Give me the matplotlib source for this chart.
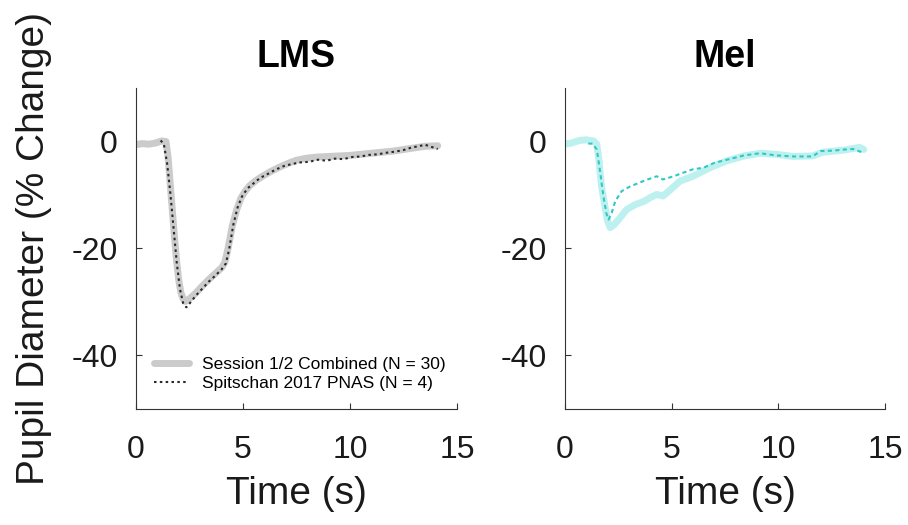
import matplotlib
matplotlib.use("Agg")
import matplotlib.pyplot as plt

plt.rcParams['font.family'] = ['Liberation Sans', 'DejaVu Sans']
plt.rcParams['axes.unicode_minus'] = False

# ---- LMS: combined session average (gray) ----
lms_comb_t = [0.0, 0.3, 0.6, 0.9, 1.2, 1.4, 1.5, 1.6, 1.7, 1.8, 1.9, 2.0, 2.1, 2.2,
              2.3, 2.5, 2.8, 3.1, 3.4, 3.7, 4.0, 4.15, 4.3, 4.5, 4.7, 4.9, 5.1, 5.3,
              5.6, 5.95, 6.3, 6.7, 7.1, 7.5, 8.0, 8.5, 9.0, 9.5, 10.0, 10.5, 11.0,
              11.5, 12.0, 12.5, 13.0, 13.5, 14.1]
lms_comb_v = [-0.6, -0.4, -0.5, -0.3, 0.1, 0.0, -3.0, -8.0, -13.0, -18.0, -22.5,
              -26.0, -28.3, -29.4, -29.9, -29.4, -28.3, -27.0, -25.8, -24.7, -23.6,
              -22.6, -20.0, -15.8, -12.8, -10.6, -9.3, -8.3, -7.3, -6.4, -5.6, -4.8,
              -4.1, -3.5, -3.1, -2.9, -2.8, -2.7, -2.6, -2.4, -2.2, -2.0, -1.8, -1.5,
              -1.2, -0.9, -0.8]

# ---- LMS: Spitschan 2017 PNAS (dotted) ----
lms_pnas_t = [1.15, 1.3, 1.45, 1.6, 1.75, 1.9, 2.05, 2.2, 2.35, 2.5, 2.8, 3.1, 3.4,
              3.7, 4.0, 4.2, 4.35, 4.55, 4.75, 4.95, 5.2, 5.5, 5.8, 6.1, 6.5, 6.9,
              7.3, 7.7, 8.1, 8.5, 8.9, 9.3, 9.7, 10.1, 10.5, 10.9, 11.3, 11.7, 12.1,
              12.5, 12.9, 13.2, 13.5, 13.8, 14.1]
lms_pnas_v = [0.2, -0.5, -4.0, -9.5, -16.0, -22.5, -27.5, -30.2, -31.0, -30.3, -28.8,
              -27.5, -26.2, -25.1, -23.9, -22.8, -20.2, -15.5, -12.3, -10.3, -8.8,
              -7.8, -6.8, -6.2, -5.3, -4.6, -4.2, -3.9, -3.8, -3.4, -3.6, -3.2, -3.3,
              -2.9, -2.8, -2.5, -2.4, -2.1, -1.9, -1.6, -1.1, -0.9, -0.6, -1.0, -1.4]

# ---- Mel: combined session average (light cyan) ----
mel_comb_t = [0.0, 0.3, 0.7, 1.0, 1.35, 1.5, 1.6, 1.72, 1.88, 2.0, 2.12, 2.3, 2.52,
              2.9, 3.3, 3.7, 4.0, 4.3, 4.6, 4.95, 5.4, 6.0, 6.8, 7.6, 8.4, 9.15, 9.9,
              10.7, 11.6, 12.1, 13.1, 13.8, 14.0]
mel_comb_v = [-0.5, -0.3, 0.2, 0.3, 0.1, -0.5, -3.5, -8.4, -12.1, -14.8, -16.1,
              -15.6, -14.6, -12.7, -11.8, -11.2, -10.5, -9.9, -10.2, -9.0, -7.4,
              -6.5, -4.9, -3.6, -2.7, -2.2, -2.4, -2.8, -2.7, -2.0, -1.6, -1.1, -1.5]

# ---- Mel: Spitschan 2017 PNAS (dotted) ----
mel_pnas_t = [1.1, 1.3, 1.5, 1.65, 1.8, 1.95, 2.05, 2.2, 2.36, 2.66, 3.06, 3.68,
              4.3, 4.6, 5.1, 5.5, 6.0, 6.5, 7.0, 7.6, 8.4, 9.15, 9.9, 10.7, 11.6,
              11.97, 12.6, 13.1, 13.5, 13.9]
mel_pnas_v = [-0.4, -0.4, -1.5, -5.5, -10.0, -13.5, -14.6, -13.3, -11.2, -9.3,
              -8.4, -7.4, -6.5, -7.1, -6.5, -5.9, -5.2, -4.9, -4.0, -3.4, -2.6,
              -2.2, -2.6, -2.8, -2.8, -1.8, -1.7, -1.5, -1.4, -2.0]

titles = ["LMS", "Mel"]
legend_labels = ["Session 1/2 Combined (N = 30)", "Spitschan 2017 PNAS (N = 4)"]
x_ticks = [0, 5, 10, 15]
y_ticks = [-40, -20, 0]

comb_colors = ["#cbcbcb", "#bdf1ef"]
pnas_colors = ["#2a2a2a", "#30c8c5"]
pnas_styles = [(0, (1.2, 1.6)), (0, (2.0, 1.6))]

fig = plt.figure(figsize=(9.08, 5.25), dpi=100)
ax_l = fig.add_axes([0.1498, 0.221, 0.3535, 0.6114])
ax_r = fig.add_axes([0.6220, 0.221, 0.3528, 0.6114])

series = [
    (ax_l, lms_comb_t, lms_comb_v, lms_pnas_t, lms_pnas_v),
    (ax_r, mel_comb_t, mel_comb_v, mel_pnas_t, mel_pnas_v),
]

for i, (ax, ct, cv, pt, pv) in enumerate(series):
    ax.plot(ct, cv, color=comb_colors[i], lw=5, solid_capstyle='round',
            label=legend_labels[0], zorder=2)
    ax.plot(pt, pv, color=pnas_colors[i], lw=1.5, linestyle=pnas_styles[i],
            label=legend_labels[1], zorder=3)
    ax.set_xlim(0, 15)
    ax.set_ylim(-50, 10)
    ax.set_xticks(x_ticks)
    ax.set_yticks(y_ticks)
    ax.tick_params(direction='in', length=4, width=0.8, colors='#333333',
                   labelsize=23, labelcolor='#1a1a1a')
    ax.tick_params(axis='x', pad=19)
    ax.tick_params(axis='y', pad=13)
    for side in ('top', 'right'):
        ax.spines[side].set_visible(False)
    for side in ('left', 'bottom'):
        ax.spines[side].set_color('#333333')
        ax.spines[side].set_linewidth(0.8)
    ax.set_title(titles[i], fontsize=27, fontweight='bold', pad=15)
    ax.set_xlabel("Time (s)", fontsize=28, color='#1a1a1a', labelpad=8)

ax_l.set_ylabel("Pupil Diameter (% Change)", fontsize=28, color='#1a1a1a')
ax_l.yaxis.set_label_coords(-0.262, 0.5)

leg = ax_l.legend(loc='lower left', bbox_to_anchor=(0.035, 0.035), frameon=False,
                  fontsize=12.5, handlelength=2.0, handletextpad=0.75,
                  labelspacing=0.2, borderaxespad=0)

fig.savefig("out.png", dpi=100, facecolor='white')
